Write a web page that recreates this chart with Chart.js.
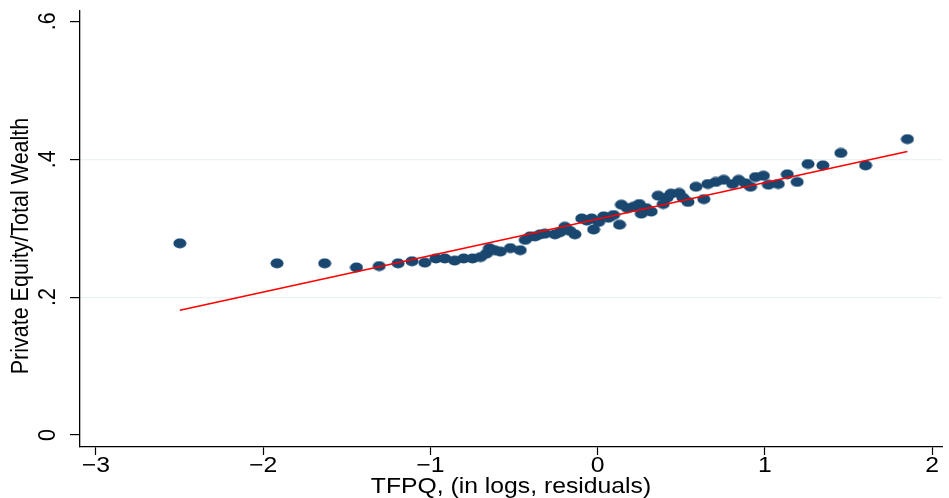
<!DOCTYPE html>
<html>
<head>
<meta charset="utf-8">
<script src="https://cdn.jsdelivr.net/npm/chart.js@4/dist/chart.umd.min.js"></script>
<style>
  html, body { margin: 0; padding: 0; background: #fff; }
  canvas { display: block; }
</style>
</head>
<body>
<canvas id="c" width="949" height="498"></canvas>
<script>
// binned means
const tfpq = [-2.498, -1.917, -1.632, -1.442, -1.306, -1.193, -1.110, -1.033, -0.967, -0.914,
  -0.855, -0.801, -0.748, -0.700, -0.665, -0.647, -0.617, -0.582, -0.522, -0.463,
  -0.433, -0.404, -0.374, -0.344, -0.315, -0.255, -0.226, -0.196, -0.166, -0.136,
  -0.095, -0.065, -0.036, -0.024, 0.006, 0.036, 0.065, 0.095, 0.131, 0.142,
  0.178, 0.214, 0.249, 0.261, 0.291, 0.320, 0.362, 0.392, 0.415, 0.439,
  0.487, 0.510, 0.540, 0.588, 0.635, 0.659, 0.706, 0.754, 0.807, 0.843,
  0.884, 0.914, 0.944, 0.991, 1.021, 1.080, 1.134, 1.193, 1.258, 1.347,
  1.454, 1.602, 1.852];
const share = [0.278, 0.249, 0.249, 0.243, 0.245, 0.249, 0.252, 0.250, 0.256, 0.256,
  0.253, 0.256, 0.256, 0.258, 0.263, 0.271, 0.268, 0.266, 0.271, 0.268,
  0.283, 0.288, 0.288, 0.291, 0.292, 0.291, 0.294, 0.302, 0.296, 0.291,
  0.314, 0.311, 0.314, 0.298, 0.309, 0.317, 0.315, 0.319, 0.305, 0.334,
  0.329, 0.331, 0.335, 0.321, 0.329, 0.324, 0.347, 0.335, 0.344, 0.350,
  0.351, 0.344, 0.338, 0.360, 0.342, 0.364, 0.367, 0.370, 0.364, 0.370,
  0.365, 0.360, 0.374, 0.376, 0.363, 0.364, 0.378, 0.367, 0.393, 0.391,
  0.409, 0.391, 0.429];
// linear fit end points
const fitX = [-2.498, 1.852];
const fitY = [0.181, 0.411];

const xTicks = [-3, -2, -1, 0, 1, 2];
const xTickLabels = ['\u22123', '\u22122', '\u22121', '0', '1', '2'];
const yTicks = [0, 0.2, 0.4, 0.6];
const yTickLabels = ['0', '.2', '.4', '.6'];
const xTitle = 'TFPQ, (in logs, residuals)';
const yTitle = 'Private Equity/Total Wealth';

const navy = '#1a476f';
const dot = document.createElement('canvas');
dot.width = 14; dot.height = 11;
(() => {
  const g = dot.getContext('2d');
  g.fillStyle = navy;
  g.beginPath();
  g.ellipse(7, 5.5, 6.5, 5, 0, 0, Math.PI * 2);
  g.fill();
})();

const FONT = '21.5px "Liberation Sans", Arial, sans-serif';
const SX = 1.15;

const stataText = {
  id: 'stataText',
  afterDraw(chart) {
    const { ctx, chartArea } = chart;
    const xs = chart.scales.x, ys = chart.scales.y;
    ctx.save();
    ctx.fillStyle = '#000';
    ctx.font = FONT;
    ctx.textAlign = 'center';
    ctx.textBaseline = 'middle';
    xTicks.forEach((v, i) => {
      ctx.save();
      ctx.translate(xs.getPixelForValue(v), 466);
      ctx.scale(SX, 1);
      ctx.fillText(xTickLabels[i], 0, 0);
      ctx.restore();
    });
    ctx.save();
    ctx.translate((chartArea.left + chartArea.right) / 2, 487);
    ctx.scale(SX, 1);
    ctx.fillText(xTitle, 0, 0);
    ctx.restore();
    yTicks.forEach((v, i) => {
      ctx.save();
      ctx.translate(48, ys.getPixelForValue(v));
      ctx.scale(SX, 1);
      ctx.rotate(-Math.PI / 2);
      ctx.fillText(yTickLabels[i], 0, 0);
      ctx.restore();
    });
    ctx.save();
    ctx.translate(21, 246);
    ctx.scale(SX, 1);
    ctx.rotate(-Math.PI / 2);
    ctx.fillText(yTitle, 0, 0);
    ctx.restore();
    ctx.restore();
  }
};

const pick = (list) => (scale) => {
  scale.ticks = list.map(v => ({ value: v }));
};

new Chart(document.getElementById('c'), {
  type: 'scatter',
  data: {
    datasets: [
      {
        type: 'line',
        order: 0,
        data: fitX.map((x, i) => ({ x, y: fitY[i] })),
        borderColor: '#ff0000',
        borderWidth: 1.6,
        pointRadius: 0,
        fill: false
      },
      {
        order: 1,
        data: tfpq.map((x, i) => ({ x, y: share[i] })),
        pointStyle: dot,
        pointRadius: 6,
        backgroundColor: navy,
        borderColor: navy
      }
    ]
  },
  options: {
    responsive: false,
    animation: false,
    layout: { padding: { top: 7, right: 0, left: 0, bottom: 0 } },
    plugins: { legend: { display: false }, tooltip: { enabled: false } },
    scales: {
      x: {
        type: 'linear',
        min: -3.095,
        max: 2.059,
        afterBuildTicks: pick(xTicks),
        afterFit: (s) => { s.height = 51; },
        ticks: { color: 'rgba(0,0,0,0)', font: { size: 12 } },
        grid: { drawOnChartArea: false, tickLength: 8, tickColor: '#000', tickWidth: 1.2 },
        border: { color: '#000', width: 1.3 }
      },
      y: {
        type: 'linear',
        min: -0.0173,
        max: 0.616,
        afterBuildTicks: pick(yTicks),
        afterFit: (s) => { s.width = 80; },
        ticks: { color: 'rgba(0,0,0,0)', font: { size: 12 } },
        grid: {
          color: (c) => (c.tick && (Math.abs(c.tick.value - 0.2) < 1e-6 || Math.abs(c.tick.value - 0.4) < 1e-6)) ? '#eaf2f3' : 'rgba(0,0,0,0)',
          lineWidth: 1.2,
          tickLength: 10,
          tickColor: '#000',
          tickWidth: 1.2
        },
        border: { color: '#000', width: 1.3 }
      }
    }
  },
  plugins: [stataText]
});
</script>
</body>
</html>
